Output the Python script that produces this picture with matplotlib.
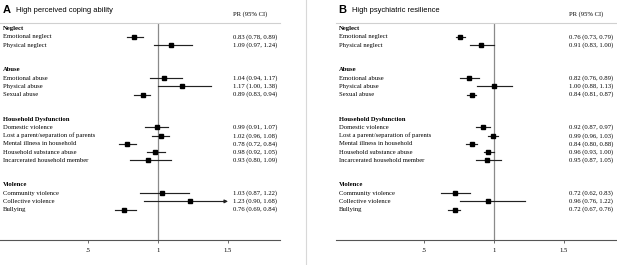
import numpy as np
import matplotlib.pyplot as plt
from matplotlib.lines import Line2D

# Data
groups = ["Neglect", "Abuse", "Household Dysfunction", "Violence"]
items = [
    ["Emotional neglect", "Physical neglect"],
    ["Emotional abuse", "Physical abuse", "Sexual abuse"],
    ["Domestic violence", "Lost a parent/separation of parents",
     "Mental illness in household", "Household substance abuse",
     "Incarcerated household member"],
    ["Community violence", "Collective violence", "Bullying"],
]

# panel A: high perceived coping ability
pr_a = [0.83, 1.09, 1.04, 1.17, 0.89, 0.99, 1.02, 0.78, 0.98, 0.93, 1.03, 1.23, 0.76]
lo_a = [0.78, 0.97, 0.94, 1.00, 0.83, 0.91, 0.96, 0.72, 0.92, 0.80, 0.87, 0.90, 0.69]
hi_a = [0.89, 1.24, 1.17, 1.38, 0.94, 1.07, 1.08, 0.84, 1.05, 1.09, 1.22, 1.68, 0.84]

# panel B: high psychiatric resilience
pr_b = [0.76, 0.91, 0.82, 1.00, 0.84, 0.92, 0.99, 0.84, 0.96, 0.95, 0.72, 0.96, 0.72]
lo_b = [0.73, 0.83, 0.76, 0.88, 0.81, 0.87, 0.96, 0.80, 0.93, 0.87, 0.62, 0.76, 0.67]
hi_b = [0.79, 1.00, 0.89, 1.13, 0.87, 0.97, 1.03, 0.88, 1.00, 1.05, 0.83, 1.22, 0.76]

xticks = [0.5, 1, 1.5]
xticklabels = [".5", "1", "1.5"]

serif = "Liberation Serif"
sans = "Liberation Sans"
FS = 4.8
XMAX = 1.5  # plot region is clipped here

# row positions: header, items, two blank rows
rows_head = []
rows_item = []
r = 0
for g, its in zip(groups, items):
    rows_head.append(r)
    r += 1
    for it in its:
        rows_item.append(r)
        r += 1
    r += 2
labels = [it for its in items for it in its]


def forest(ax, pr, lo, hi):
    ax.set_xlim(1 - 158 / 140, 1 + 122 / 140)
    ax.set_ylim(25.7, -0.7)
    ax.axvline(1, color="#8a8a8a", lw=0.9, zorder=1)
    for y, p, l, h in zip(rows_item, pr, lo, hi):
        if h > XMAX:
            ax.plot([l, XMAX - 0.02], [y, y], color="#222222", lw=0.85, zorder=2)
            ax.annotate("", xy=(XMAX, y), xytext=(XMAX - 0.03, y),
                        arrowprops=dict(arrowstyle="-|>", color="#222222",
                                        lw=0.8, mutation_scale=5,
                                        shrinkA=0, shrinkB=0))
        else:
            ax.plot([l, h], [y, y], color="#222222", lw=0.85, zorder=2)
        ax.plot(p, y, marker="s", ms=2.2, color="black", zorder=3)
        ax.text(0.832, y, f"{p:.2f} ({l:.2f}, {h:.2f})", transform=ax.get_yaxis_transform(),
                ha="left", va="center", fontsize=FS, family=serif)
    for y, g in zip(rows_head, groups):
        ax.text(0.011, y, g, transform=ax.get_yaxis_transform(), ha="left",
                va="center", fontsize=FS, family=serif, weight="bold")
    for y, lab in zip(rows_item, labels):
        ax.text(0.011, y, lab, transform=ax.get_yaxis_transform(), ha="left",
                va="center", fontsize=FS, family=serif)
    ax.text(0.832, 1.042, "PR (95% CI)", transform=ax.transAxes, ha="left",
            va="center", fontsize=FS, family=serif)
    ax.set_xticks(xticks)
    ax.set_xticklabels(xticklabels, fontsize=FS, family=serif)
    ax.tick_params(axis="x", length=2, width=0.6, color="#555555", pad=4)
    ax.set_yticks([])
    for s in ["left", "right"]:
        ax.spines[s].set_visible(False)
    ax.spines["top"].set_color("#d0d0d0")
    ax.spines["top"].set_linewidth(0.8)
    ax.spines["bottom"].set_color("#555555")
    ax.spines["bottom"].set_linewidth(0.8)


fig = plt.figure(figsize=(6.17, 2.65), dpi=100)
W, H = 617, 265
ax1 = fig.add_axes([0 / W, 1 - 240 / H, 280 / W, 217 / H])
ax2 = fig.add_axes([336 / W, 1 - 240 / H, 280 / W, 217 / H])
forest(ax1, pr_a, lo_a, hi_a)
forest(ax2, pr_b, lo_b, hi_b)

fig.text(3 / W, 1 - 10 / H, "A", fontsize=8, weight="bold", family=sans, va="center")
fig.text(16 / W, 1 - 10 / H, "High perceived coping ability", fontsize=5.4, family=sans, va="center")
fig.text(338 / W, 1 - 10 / H, "B", fontsize=8, weight="bold", family=sans, va="center")
fig.text(352 / W, 1 - 10 / H, "High psychiatric resilience", fontsize=5.4, family=sans, va="center")

fig.add_artist(Line2D([306 / W, 306 / W], [0, 1], color="#d8d8d8", lw=0.8))

fig.savefig("out.png", dpi=100)
